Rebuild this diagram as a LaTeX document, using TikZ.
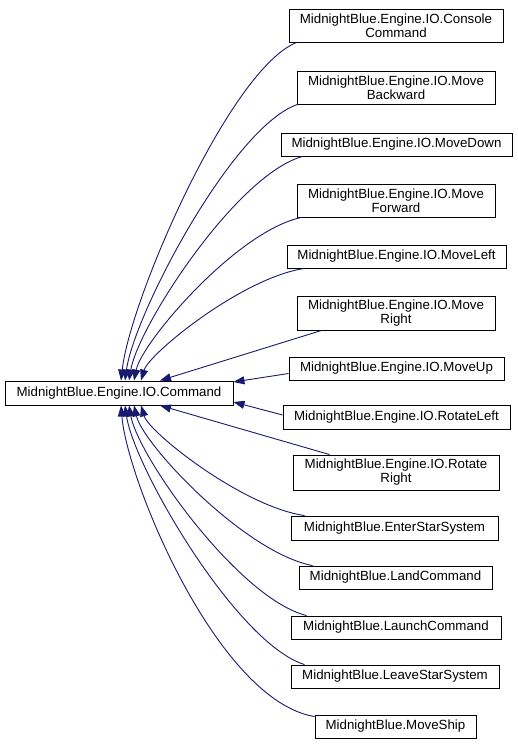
\documentclass[tikz,border=0pt]{standalone}
\usepackage{fontspec}
\setmainfont{Liberation Sans}
\usetikzlibrary{arrows.meta}
\definecolor{edgeblue}{HTML}{191970}
\begin{document}
\begin{tikzpicture}[x=1pt,y=1pt,
  cls/.style={draw=black, line width=0.9pt, fill=white, align=center, inner sep=0pt,
    font=\fontsize{13.3}{14}\selectfont},
  edge/.style={draw=edgeblue, line width=0.9pt, -{Triangle[length=11pt,width=8pt]}}]
\useasboundingbox (0,0) rectangle (517,-744);
\node[cls, minimum width=228, minimum height=24] (cmd) at (119,-393) {MidnightBlue.Engine.IO.Command};
\node[cls, minimum width=214, minimum height=33] (cc) at (396,-25.5) {MidnightBlue.Engine.IO.Console\\Command};
\node[cls, minimum width=198, minimum height=33] (mb) at (396,-87.5) {MidnightBlue.Engine.IO.Move\\Backward};
\node[cls, minimum width=231, minimum height=23] (md) at (396.5,-144.5) {MidnightBlue.Engine.IO.MoveDown};
\node[cls, minimum width=198, minimum height=33] (mf) at (396,-200.5) {MidnightBlue.Engine.IO.Move\\Forward};
\node[cls, minimum width=219, minimum height=23] (ml) at (396.5,-256.5) {MidnightBlue.Engine.IO.MoveLeft};
\node[cls, minimum width=198, minimum height=34] (mr) at (396,-313) {MidnightBlue.Engine.IO.Move\\Right};
\node[cls, minimum width=215, minimum height=23] (mu) at (396.5,-368.5) {MidnightBlue.Engine.IO.MoveUp};
\node[cls, minimum width=227, minimum height=24] (rl) at (396.5,-417) {MidnightBlue.Engine.IO.RotateLeft};
\node[cls, minimum width=206, minimum height=35] (rr) at (396,-472.5) {MidnightBlue.Engine.IO.Rotate\\Right};
\node[cls, minimum width=207, minimum height=24] (es) at (394.5,-528) {MidnightBlue.EnterStarSystem};
\node[cls, minimum width=193, minimum height=23] (lc) at (395.5,-577.5) {MidnightBlue.LandCommand};
\node[cls, minimum width=210, minimum height=23] (lac) at (396,-627.5) {MidnightBlue.LaunchCommand};
\node[cls, minimum width=208, minimum height=23] (lss) at (395,-676.5) {MidnightBlue.LeaveStarSystem};
\node[cls, minimum width=161, minimum height=23] (ms) at (395.5,-726.5) {MidnightBlue.MoveShip};
% upper edges
\draw[edge] ([xshift=8]cc.south west) .. controls +(-67,-27) and +(9,81) .. ([xshift=2]cmd.north);
\draw[edge] ([xshift=1]mb.south west) .. controls +(-65,-22) and +(9,66) .. ([xshift=6]cmd.north);
\draw[edge] ([xshift=22]md.south west) .. controls +(-66,-18) and +(9,54) .. ([xshift=10]cmd.north);
\draw[edge] ([xshift=5]mf.south west) .. controls +(-64,-13) and +(8,39) .. ([xshift=15]cmd.north);
\draw[edge] ([xshift=18]ml.south west) .. controls +(-62,-9) and +(8,27) .. ([xshift=22]cmd.north);
\draw[edge] ([xshift=25]mr.south west) -- ([xshift=41]cmd.north);
\draw[edge] ([yshift=-5]mu.west) -- ([yshift=11]cmd.east);
\draw[edge] ([yshift=2]rl.west) -- ([yshift=-9]cmd.east);
% lower edges
\draw[edge] ([xshift=37]rr.north west) -- ([xshift=41]cmd.south);
\draw[edge] ([xshift=14]es.north west) .. controls +(-62,9) and +(8,-27) .. ([xshift=22]cmd.south);
\draw[edge] ([xshift=14]lc.north west) .. controls +(-68,13) and +(9,-39) .. ([xshift=15]cmd.south);
\draw[edge] ([xshift=16]lac.north west) .. controls +(-68,17) and +(9,-51) .. ([xshift=10]cmd.south);
\draw[edge] ([xshift=14]lss.north west) .. controls +(-68,21) and +(9,-62) .. ([xshift=6]cmd.south);
\draw[edge] ([yshift=-2]ms.north west) .. controls +(-97,16) and +(6,-75) .. ([xshift=2]cmd.south);
\end{tikzpicture}
\end{document}
